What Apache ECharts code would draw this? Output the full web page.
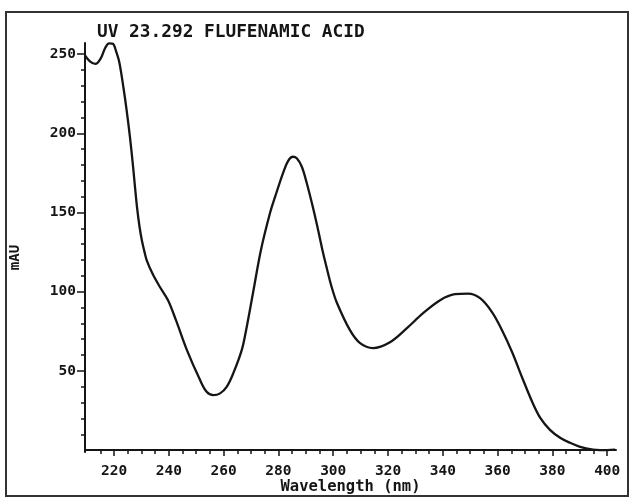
<!DOCTYPE html>
<html>
<head>
<meta charset="utf-8">
<script src="https://cdn.jsdelivr.net/npm/echarts@6/dist/echarts.min.js"></script>
<style>
  html, body { margin: 0; padding: 0; background: #ffffff; }
  #chart { width: 631px; height: 497px; }
</style>
</head>
<body>
<div id="chart"></div>
<script>
// UV spectrum of flufenamic acid (peak at 23.292 min)
const wavelength = [
  209.4, 211.2, 213.2, 215.2, 216.8, 218.2, 219.6, 220.7, 221.9, 223.4,
  224.6, 225.8, 226.8, 227.6, 228.4, 229.3, 230.2, 231.2, 232.0, 234.2,
  236.8, 239.7, 242.6, 246.6, 251.4, 253.8, 256.2, 258.7, 261.1, 263.5,
  266.6, 268.2, 270.7, 273.6, 276.9, 278.8, 281.8, 283.6, 285.3, 286.7,
  288.5, 290.3, 292.2, 294.1, 295.9, 297.7, 299.5, 301.4, 306.1, 309.8,
  314.5, 320.7, 326.9, 332.8, 339.0, 344.4, 349.2, 353.6, 358.0, 361.6,
  365.3, 368.9, 372.6, 375.5, 379.1, 382.8, 386.4, 390.1, 394.8, 397.4,
  400.0, 402.9
];
const absorbance = [
  249.2, 245.4, 243.8, 247.5, 254.0, 256.8, 256.5, 252.0, 245.0, 229.2,
  214.5, 197.7, 181.5, 167.0, 153.0, 141.0, 132.0, 124.5, 119.5, 110.8,
  102.8, 94.6, 82.0, 63.1, 44.2, 36.8, 34.7, 35.8, 39.9, 48.4,
  63.1, 75.7, 99.0, 126.2, 149.5, 160.0, 175.5, 182.8, 185.2, 184.2,
  179.0, 168.8, 156.0, 142.0, 127.5, 114.5, 102.5, 92.7, 75.7, 67.5,
  64.4, 68.1, 77.0, 86.4, 94.6, 98.4, 98.8, 95.9, 87.0, 75.7,
  61.8, 46.0, 30.5, 20.5, 12.8, 7.8, 4.6, 2.1, 0.3, 0.0,
  0.0, 0.3
];

// tick positions
const xMinorTicks = [215, 220, 225, 230, 235, 240, 245, 250, 255, 260, 265, 270, 275, 280, 285,
  290, 295, 300, 305, 310, 315, 320, 325, 330, 335, 340, 345, 350, 355, 360, 365, 370, 375, 380,
  385, 390, 395, 400];
const xMajorTicks = [220, 240, 260, 280, 300, 320, 340, 360, 380, 400];
const yMinorTicks = [10, 20, 30, 40, 50, 60, 70, 80, 90, 100, 110, 120, 130, 140, 150, 160, 170,
  180, 190, 200, 210, 220, 230, 240, 250];
const yMajorTicks = [50, 100, 150, 200, 250];

const titleText = 'UV 23.292 FLUFENAMIC ACID';
const xName = 'Wavelength (nm)';
const yName = 'mAU';

const ink = '#151515';
const mono = "'DejaVu Sans Mono', 'Liberation Mono', monospace";
const X_MIN = 209.4, X_MAX = 403.2, Y_MIN = -1.2, Y_MAX = 257;

const chart = echarts.init(document.getElementById('chart'), null, { renderer: 'canvas' });

const baseX = {
  type: 'value', min: X_MIN, max: X_MAX, position: 'bottom', gridIndex: 0,
  splitLine: { show: false }
};
const baseY = {
  type: 'value', min: Y_MIN, max: Y_MAX, position: 'left', gridIndex: 0,
  splitLine: { show: false }
};

chart.setOption({
  animation: false,
  backgroundColor: '#ffffff',
  title: {
    text: titleText, left: 92, top: 18,
    textStyle: { fontFamily: mono, fontWeight: 'bold', fontSize: 17.8, color: ink }
  },
  grid: { left: 85, right: 15, top: 43, bottom: 45, containLabel: false,
          outerBoundsMode: 'none' },
  xAxis: [
    Object.assign({}, baseX, {
      axisLine: { show: true, lineStyle: { color: ink, width: 2 } },
      axisTick: { show: true, customValues: xMinorTicks, length: 4, inside: false,
                  lineStyle: { color: ink, width: 1.5 } },
      axisLabel: { show: false },
      name: xName, nameLocation: 'middle', nameGap: 27,
      nameTextStyle: { fontFamily: mono, fontWeight: 'bold', fontSize: 15.5, color: ink }
    }),
    Object.assign({}, baseX, {
      axisLine: { show: false },
      axisTick: { show: true, customValues: xMajorTicks, length: 6,
                  lineStyle: { color: ink, width: 1.5 } },
      axisLabel: { show: true, customValues: xMajorTicks, margin: 12,
                   fontFamily: mono, fontWeight: 'bold', fontSize: 14.5, color: ink }
    })
  ],
  yAxis: [
    Object.assign({}, baseY, {
      axisLine: { show: true, lineStyle: { color: ink, width: 2 } },
      axisTick: { show: true, customValues: yMinorTicks, length: 4,
                  lineStyle: { color: ink, width: 1.5 } },
      axisLabel: { show: false },
      name: yName, nameLocation: 'middle', nameGap: 63, nameRotate: 90,
      nameTextStyle: { fontFamily: mono, fontWeight: 'bold', fontSize: 14, color: ink,
                       padding: [0, 20, 0, 0] }
    }),
    Object.assign({}, baseY, {
      axisLine: { show: false },
      axisTick: { show: true, customValues: yMajorTicks, length: 8,
                  lineStyle: { color: ink, width: 1.5 } },
      axisLabel: { show: true, customValues: yMajorTicks, margin: 9,
                   fontFamily: mono, fontWeight: 'bold', fontSize: 14.5, color: ink }
    })
  ],
  series: [{
    type: 'line',
    xAxisIndex: 0, yAxisIndex: 0,
    data: wavelength.map((w, i) => [w, absorbance[i]]),
    smooth: 0.35,
    showSymbol: false,
    lineStyle: { color: ink, width: 2.3 },
    clip: false
  }],
  graphic: [{
    type: 'rect',
    shape: { x: 6, y: 12, width: 622, height: 484 },
    style: { fill: null, stroke: '#333', lineWidth: 2 },
    silent: true
  }]
});
</script>
</body>
</html>
